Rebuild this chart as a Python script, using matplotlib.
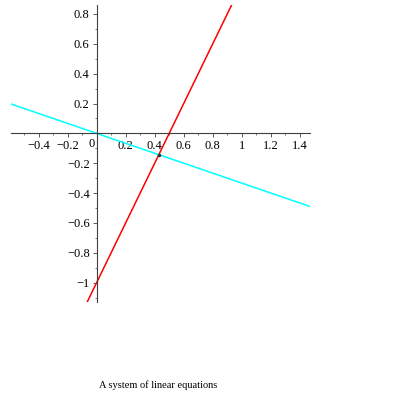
import numpy as np
import matplotlib.pyplot as plt
from matplotlib.ticker import MultipleLocator, FuncFormatter

# lines y = m*x + b
slopes = [2.0, -1.0 / 3.0]
intercepts = [-1.0, 0.0]
line_colors = ['#ff0000', '#00ffff']
x_range = [-0.59, 1.47]
y_range = [-1.13, 0.86]
caption = 'A system of linear equations'

plt.rcParams['font.family'] = ['Liberation Serif', 'DejaVu Serif']

fig = plt.figure(figsize=(3.95, 3.95), dpi=100)
fig.set_facecolor('white')
ax = fig.add_axes([11 / 395, 93 / 395, 299 / 395, 297 / 395])

xs = np.array(x_range)
for m, b, c in zip(slopes, intercepts, line_colors):
    ax.plot(xs, m * xs + b, color=c, lw=1.1)

# intersection of the two lines
A = np.array([[-slopes[0], 1.0], [-slopes[1], 1.0]])
px, py = np.linalg.solve(A, np.array(intercepts))
ax.plot([px], [py], marker='o', ms=1.5, color='#303030', ls='none')

ax.set_xlim(x_range)
ax.set_ylim(y_range)

axis_color = '#404040'
for side in ['top', 'right']:
    ax.spines[side].set_visible(False)
ax.spines['left'].set_position(('data', 0))
ax.spines['bottom'].set_position(('data', 0))
ax.spines['left'].set_color(axis_color)
ax.spines['bottom'].set_color(axis_color)

ax.xaxis.set_major_locator(MultipleLocator(0.2))
ax.yaxis.set_major_locator(MultipleLocator(0.2))
ax.xaxis.set_minor_locator(MultipleLocator(0.1))
ax.yaxis.set_minor_locator(MultipleLocator(0.1))


def fmt(v, pos):
    if abs(v) < 1e-9:
        return ''
    return ('%g' % round(v, 2)).replace('-', '\u2212')


ax.xaxis.set_major_formatter(FuncFormatter(fmt))
ax.yaxis.set_major_formatter(FuncFormatter(fmt))
ax.tick_params(which='major', length=3, width=0.6, color=axis_color,
               labelsize=9, pad=2)
ax.tick_params(which='minor', length=1.5, width=0.5, color=axis_color)
ax.text(-0.015, -0.03, '0', fontsize=9, ha='right', va='top')

fig.text(158 / 395, 1 - 385 / 395, caption, fontsize=7.5, ha='center', va='center')

fig.savefig('out.png', dpi=100)
